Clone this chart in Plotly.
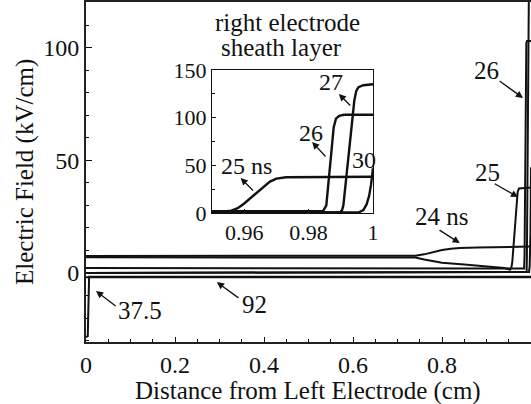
import plotly.graph_objects as go

# Electric field profiles across the gap at selected times
# (distance in cm from the left electrode, field in kV/cm)
x_24 = [0.0, 0.70, 0.74, 0.76, 0.78, 0.80, 0.82, 0.84, 0.88, 0.95, 1.0]
e_24 = [7.6, 7.6, 7.7, 8.3, 9.3, 10.2, 10.8, 11.1, 11.3, 11.6, 11.8]

x_25 = [0.0, 0.70, 0.74, 0.76, 0.78, 0.80, 0.85, 0.90, 0.94, 0.953, 0.956,
        0.958, 0.960, 0.962, 0.964, 0.966, 0.968, 0.970, 0.973, 1.0]
e_25 = [7.0, 7.0, 6.9, 6.0, 5.2, 4.6, 3.8, 3.0, 2.2, 1.5, 2.5,
        5.0, 10.0, 16.0, 22.0, 28.0, 33.0, 36.0, 37.5, 38.0]

x_26 = [0.0, 0.95, 0.9845, 0.9855, 0.9863, 0.9870, 0.9878, 0.9885, 0.9895, 0.991, 1.0]
e_26 = [2.2, 2.2, 2.0, 8.0, 35.0, 65.0, 90.0, 99.0, 102.0, 103.0, 103.0]

x_27 = [0.0, 0.9902, 0.9908, 0.9915, 0.9925, 0.9935, 0.9942, 0.9948, 0.9955, 0.997, 1.0]
e_27 = [0.0, 0.5, 8.0, 30.0, 62.0, 95.0, 118.0, 128.0, 132.0, 134.0, 135.0]

x_30 = [0.0, 0.9955, 0.9970, 0.9980, 0.9988, 0.9994, 1.0]
e_30 = [0.0, 0.5, 3.0, 9.0, 18.0, 30.0, 47.0]

x_37 = [0.0, 0.004, 0.0048, 0.0053, 0.0058, 0.007, 1.0]
e_37 = [-28.5, -28.0, -20.0, -6.0, -2.2, -1.6, -1.6]

x_92 = [0.0, 1.0]
e_92 = [-1.9, -1.9]

main_xticks = [0, 0.2, 0.4, 0.6, 0.8, 1.0]
main_xtext = ["0", "0.2", "0.4", "0.6", "0.8", "1"]
main_yticks = [0, 50, 100]
inset_xticks = [0.96, 0.98, 1.0]
inset_xtext = ["0.96", "0.98", "1"]
inset_yticks = [0, 50, 100, 150]

FONT = "Liberation Serif, Times New Roman, serif"
INK = "#111111"


def serif(size):
    return dict(family=FONT, size=size, color=INK)


fig = go.Figure()

main_series = [(x_24, e_24), (x_25, e_25), (x_26, e_26), (x_27, e_27),
               (x_30, e_30), (x_37, e_37), (x_92, e_92)]
for xs, es in main_series:
    fig.add_trace(go.Scatter(x=xs, y=es, mode="lines",
                             line=dict(color=INK, width=2),
                             xaxis="x", yaxis="y", showlegend=False,
                             hoverinfo="skip"))

# zoomed view of the right-electrode sheath
inset_series = [(x_25, e_25), (x_26, e_26), (x_27, e_27), (x_30, e_30)]
for xs, es in inset_series:
    fig.add_trace(go.Scatter(x=xs, y=es, mode="lines",
                             line=dict(color=INK, width=2.4),
                             xaxis="x2", yaxis="y2", showlegend=False,
                             hoverinfo="skip"))

W, H = 531, 404
L, R, T, B = 86, 0, 2, 62
pw, ph = W - L - R, H - T - B


def px_to_paper(px, py):
    return (px - L) / pw, (H - B - py) / ph


ix0, iy0 = px_to_paper(212, 213)
ix1, iy1 = px_to_paper(373, 70)

fig.update_layout(
    width=W, height=H,
    margin=dict(l=L, r=R, t=T, b=B, autoexpand=False),
    paper_bgcolor="white", plot_bgcolor="white",
    font=serif(24),
    xaxis=dict(domain=[0, 1], range=[0, 1.0], tickvals=main_xticks,
               ticktext=main_xtext, ticks="inside", ticklen=5, tickwidth=1.2,
               tickcolor=INK, showline=True, linecolor="#222222", linewidth=2,
               mirror=True, showgrid=False, zeroline=False,
               tickfont=serif(24),
               minor=dict(dtick=0.05, ticks="inside", ticklen=3,
                          tickcolor=INK, tickwidth=1)),
    yaxis=dict(domain=[0, 1], range=[-30.6, 120.3], tickvals=main_yticks,
               ticks="inside", ticklen=6, tickwidth=1.2, tickcolor=INK,
               showline=True, linecolor="#222222", linewidth=2,
               mirror=False, showgrid=False, zeroline=False,
               tickfont=serif(24),
               minor=dict(dtick=10, ticks="inside", ticklen=3,
                          tickcolor=INK, tickwidth=1)),
    xaxis2=dict(domain=[ix0, ix1], range=[0.95, 1.0], anchor="y2",
                tickvals=inset_xticks, ticktext=inset_xtext,
                ticks="inside", ticklen=4, tickcolor=INK,
                showline=True, linecolor=INK, linewidth=1, mirror=True,
                showgrid=False, zeroline=False, tickfont=serif(22),
                minor=dict(dtick=0.01, ticks="inside", ticklen=3,
                           tickcolor=INK)),
    yaxis2=dict(domain=[iy0, iy1], range=[0, 150], anchor="x2",
                tickvals=inset_yticks, ticks="inside", ticklen=4,
                tickcolor=INK, showline=True, linecolor=INK, linewidth=1,
                mirror=True, showgrid=False, zeroline=False,
                tickfont=serif(22),
                minor=dict(dtick=25, ticks="inside", ticklen=3,
                           tickcolor=INK)),
)


def add_text(text, x, y, xref, yref, size, angle=0):
    fig.add_annotation(text=text, x=x, y=y, xref=xref, yref=yref,
                       xanchor="center", yanchor="middle", textangle=angle,
                       showarrow=False, font=serif(size))


# axis titles
tx, ty = px_to_paper(308, 391)
add_text("Distance from Left Electrode (cm)", tx, ty, "paper", "paper", 25)
tx, ty = px_to_paper(25, 172)
add_text("Electric Field (kV/cm)", tx, ty, "paper", "paper", 25, angle=-90)

# inset caption
for text, (cx, cy) in [("right electrode", (287, 22)), ("sheath layer", (281, 48))]:
    px_, py_ = px_to_paper(cx, cy)
    add_text(text, px_, py_, "paper", "paper", 25)

# time labels: (text, text pos, arrow tail, arrow head, axes)
labels = [
    ("24 ns", (0.798, 24.9), (0.791, 19.5), (0.840, 13.3), "x", "y"),
    ("25", (0.903, 44.8), (0.915, 40.0), (0.971, 33.7), "x", "y"),
    ("26", (0.899, 90.1), (0.926, 85.7), (0.982, 77.7), "x", "y"),
    ("37.5", (0.121, -16.4), (0.070, -15.1), (0.0225, -8.0), "x", "y"),
    ("92", (0.378, -13.8), (0.346, -11.5), (0.294, -4.0), "x", "y"),
    ("25 ns", (0.9608, 49.3), (0.9632, 22.0), (0.9589, 36.7), "x2", "y2"),
    ("26", (0.9808, 83.9), (0.9857, 57.7), (0.9811, 74.5), "x2", "y2"),
    ("27", (0.9869, 137.5), (0.9934, 111.2), (0.9894, 124.9), "x2", "y2"),
    ("30", (0.9971, 55.6), None, None, "x2", "y2"),
]
for text, pos, tail, head, xr, yr in labels:
    add_text(text, pos[0], pos[1], xr, yr, 25 if xr == "x" else 24)
    if tail is not None:
        fig.add_annotation(text="", x=head[0], y=head[1], ax=tail[0], ay=tail[1],
                           xref=xr, yref=yr, axref=xr, ayref=yr,
                           showarrow=True, arrowhead=2, arrowsize=1.1,
                           arrowwidth=1.3, arrowcolor=INK, standoff=0)

fig.write_html("out.html")
